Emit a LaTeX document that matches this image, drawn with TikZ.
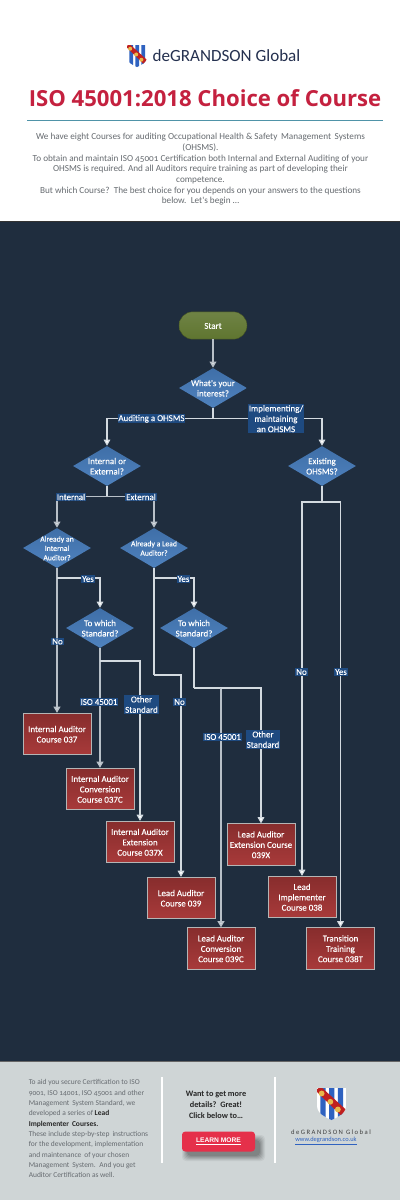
\documentclass[tikz,border=0pt]{standalone}
\usepackage{fontspec}
\setmainfont{Carlito}
\newfontfamily\osfont[Numbers=OldStyle]{Carlito}
\newfontfamily\flowfont[FakeBold=0.25]{Carlito}
\newfontfamily\titlefont{Open Sans}
\newfontfamily\spacedfont[LetterSpace=22]{Carlito}
\newfontfamily\btnfont{Liberation Sans}
\usetikzlibrary{arrows.meta,shapes.geometric,shapes.misc}
\definecolor{bgdark}{HTML}{1F2D3E}
\definecolor{foot}{HTML}{CFD5D6}
\definecolor{lbl}{HTML}{1E4A80}
\definecolor{conn}{HTML}{D3DAE0}
\definecolor{crimson}{HTML}{C4213F}
\definecolor{bodygray}{HTML}{666B70}
\definecolor{navy}{HTML}{24304F}
\definecolor{btnred}{HTML}{E5304A}
\definecolor{teal1}{HTML}{4F93A8}
\newcommand\zt[1]{\makebox[0pt]{\smash{\raisebox{-.4em}{\begin{tabular}[c]{@{}c@{}}#1\end{tabular}}}}}
\tikzset{
  x=.75pt,y=-.75pt,
  flowtext/.style={text=white,font=\flowfont\fontsize{6.7}{7.75}\selectfont,inner sep=0pt},
  smalltext/.style={font=\flowfont\fontsize{5.8}{7}\selectfont},
  startbox/.style={flowtext,rounded rectangle,minimum width=51pt,minimum height=20.5pt,
     top color=HTMLolive!90,bottom color=HTMLolive,draw=HTMLolive!70!black,line width=.3pt},
  decision/.style={flowtext,diamond,minimum width=51pt,minimum height=30pt,
     top color=blue1,bottom color=blue2},
  course/.style={flowtext,rectangle,minimum width=51pt,minimum height=31pt,
     top color=red1,bottom color=red2,draw=boxedge,line width=.7pt},
  tag/.style={flowtext,fill=lbl,inner sep=.6pt},
  wire/.style={draw=conn,line width=.8pt},
  wirethick/.style={draw=conn!85!bgdark,line width=1.15pt},
  go/.style={-{Triangle[length=4.6pt,width=5pt,fill=white]}},
  shield/.pic={
    \path[clip] (0,0)--(1,0)--(1,.55) .. controls (1,.8) and (.7,.92) .. (.5,1)
       .. controls (.3,.92) and (0,.8) .. (0,.55)--cycle;
    \fill[white] (0,0) rectangle (1,1);
    \fill[HTMLstripe] (.12,0) rectangle (.3,1) (.42,0) rectangle (.6,1) (.72,0) rectangle (.9,1);
    \fill[HTMLband] (-.05,.08)--(.12,-.05)--(1.05,.72)--(.9,.92)--cycle;
    \fill[HTMLdot] (.16,.17) circle[x radius=.1,y radius=.09] (.46,.43) circle[x radius=.1,y radius=.09] (.72,.67) circle[x radius=.1,y radius=.09];
  }
}
\definecolor{HTMLolive}{HTML}{5F7530}
\definecolor{blue1}{HTML}{3F6FA8}
\definecolor{blue2}{HTML}{4F82BE}
\definecolor{red1}{HTML}{872D2D}
\definecolor{red2}{HTML}{A83A3A}
\definecolor{boxedge}{HTML}{B5B5B5}
\definecolor{HTMLstripe}{HTML}{2F62C0}
\definecolor{HTMLband}{HTML}{C0201F}
\definecolor{HTMLdot}{HTML}{E8B84A}
\begin{document}
\begin{tikzpicture}
\useasboundingbox (0,0) rectangle (400,1200);
\fill[white] (0,0) rectangle (400,221);
\fill[bgdark] (0,221) rectangle (400,1061);
\fill[foot] (0,1061) rectangle (400,1200);
\draw[black!80,line width=.5pt] (0,221)--(400,221);
\draw[black!60,line width=.5pt] (0,1061)--(400,1061);
% header
\pic[shift={(127,45)},xscale=20,yscale=22] {shield};
\node[inner sep=0pt,text=navy,font=\fontsize{12.8}{15}\selectfont] (brand) at (226.5,56) {deGRANDSON Global};
\node[inner sep=0pt,text=crimson,font=\titlefont\bfseries\fontsize{16.6}{20}\selectfont] (title) at (205,98) {ISO 45001:2018 Choice of Course};
\draw[teal1,line width=.7pt] (27,120.5)--(383,120.5);
\node[inner sep=0pt,text=bodygray,align=center,font=\osfont\fontsize{6.9}{8}\selectfont] (intro) at (200.5,169.5) {We have eight Courses for auditing Occupational Health \& Safety\, Management\, Systems\\(OHSMS).\\To obtain and maintain ISO 45001 Certification both Internal and External Auditing of your\\OHSMS is required. And all Auditors require training as part of developing their\\competence.\\But which Course?\, The best choice for you depends on your answers to the questions\\below.\, Let's begin \dots};
% flow nodes
\node[startbox] (start) at (213,325.5) {\zt{Start}};
\node[decision] (d1) at (213,388) {\zt{What's your\\interest?}};
\node[decision] (d2) at (107,466) {\zt{Internal or\\External?}};
\node[decision] (d3) at (322,466) {\zt{Existing\\OHSMS?}};
\node[decision,smalltext] (d4) at (57,548) {\zt{Already an\\Internal\\Auditor?}};
\node[decision,smalltext] (d5) at (154,548) {\zt{Already a Lead\\Auditor?}};
\node[decision] (d6) at (100,628) {\zt{To which\\Standard?}};
\node[decision] (d7) at (194,628) {\zt{To which\\Standard?}};
\node[course] (c037) at (57,734) {\zt{Internal Auditor\\Course 037}};
\node[course] (c037c) at (100,789) {\zt{Internal Auditor\\Conversion\\Course 037C}};
\node[course] (c037x) at (140,842) {\zt{Internal Auditor\\Extension\\Course 037X}};
\node[course] (c039) at (181,898) {\zt{Lead Auditor\\Course 039}};
\node[course] (c039c) at (221,948.5) {\zt{Lead Auditor\\Conversion\\Course 039C}};
\node[course] (c039x) at (261,844.5) {\zt{Lead Auditor\\Extension Course\\039X}};
\node[course] (c038) at (302,897) {\zt{Lead\\Implementer\\Course 038}};
\node[course] (c038t) at (340.5,948.5) {\zt{Transition\\Training\\Course 038T}};
% junctions
\coordinate (j1) at (213,418.3);
\coordinate (j2) at (107,496.7);
\coordinate (j3) at (322,502);
\coordinate (j4) at (57,578);
\coordinate (j5) at (154,578);
\coordinate (j6) at (100,661);
\coordinate (j7) at (154,675);
\coordinate (j8) at (194,688);
\coordinate (j9) at (221,688);
% connectors
\draw[wirethick,go] (start)--(d1);
\draw[wire] (d1)--(j1);
\draw[wire,go] (j1)-|(d2);
\draw[wire,go] (j1)-|(d3);
\draw[wire] (d2)--(j2);
\draw[wirethick,go] (j2)-|(d4);
\draw[wirethick,go] (j2)-|(d5);
\draw[wire] (d3)--(j3);
\draw[wire,go] (j3)-|(c038);
\draw[wire,go] (j3)-|(c038t);
\draw[wirethick,go] (d4)--(c037);
\draw[wire,go] (j4)-|(d6);
\draw[wire] (d5)--(j7);
\draw[wire,go] (j7)-|(c039);
\draw[wire,go] (j5)-|(d7);
\draw[wirethick,go] (d6)--(c037c);
\draw[wire,go] (j6)-|(c037x);
\draw[wire] (d7)--(j8);
\draw[wire] (j8)--(j9);
\draw[wirethick,go] (j9)--(c039c);
\draw[wire,go] (j9)-|(c039x);
% labels
\node[tag] (l1) at (151.5,418.7) {Auditing a OHSMS};
\node[tag,align=center] (l2) at (276,418.7) {Implementing/\\maintaining\\an OHSMS};
\node[tag] (l3) at (71,497) {Internal};
\node[tag] (l4) at (141,497) {External};
\node[tag] (l5) at (88,579) {Yes};
\node[tag] (l6) at (183.5,579) {Yes};
\node[tag] (l7) at (57.5,641.5) {No};
\node[tag] (l8) at (99,702) {ISO 45001};
\node[tag,align=center] (l9) at (141.5,704.5) {Other\\Standard};
\node[tag] (l10) at (179.5,702) {No};
\node[tag] (l11) at (222.5,737) {ISO 45001};
\node[tag,align=center] (l12) at (263,739.5) {Other\\Standard};
\node[tag] (l13) at (301.5,672) {No};
\node[tag] (l14) at (341,672) {Yes};
% footer
\node[inner sep=0pt,anchor=north west,text=bodygray,align=left,font=\osfont\fontsize{5.6}{7.75}\selectfont] (foottext) at (28.5,1079.5) {To aid you secure Certification to ISO\\9001, ISO 14001, ISO 45001 and other\\Management\, System Standard, we\\developed a series of \textcolor{black!85}{\bfseries Lead}\\\textcolor{black!85}{\bfseries Implementer\, Courses.}\\These include step-by-step\, instructions\\for the development, implementation\\and maintenance\, of your chosen\\Management\, System.\, And you get\\Auditor Certification as well.};
\draw[white,line width=.8pt] (162,1077)--(162,1163);
\draw[white,line width=.8pt] (275,1077)--(275,1163);
\node[inner sep=0pt,text=black!85,align=center,font=\bfseries\fontsize{6.2}{8.3}\selectfont] (want) at (216,1104.5) {Want to get more\\details?\, Great!\\Click below to\dots};
\foreach \s/\o in {6/.05,5/.06,4/.07,3/.08,2/.09,1/.1}{
  \fill[black,opacity=\o,rounded corners=3pt] (188-\s,1141-\s) rectangle (259+\s,1155+\s);
}
\node[inner sep=0pt,rounded corners=2.5pt,fill=btnred,minimum width=54.75pt,minimum height=15pt,text=white,font=\btnfont\bfseries\fontsize{5}{7}\selectfont] (btn) at (218.5,1141.5) {\underline{LEARN MORE}};
\pic[shift={(317,1088)},xscale=29,yscale=32] {shield};
\node[inner sep=0pt,text=black!75,font=\spacedfont\fontsize{5}{7}\selectfont] (brand2) at (331,1132) {deGRANDSON Global};
\node[inner sep=0pt,text=HTMLstripe,font=\fontsize{4.8}{7}\selectfont] (url) at (326,1141) {\underline{www.degrandson.co.uk}};
\end{tikzpicture}
\end{document}
